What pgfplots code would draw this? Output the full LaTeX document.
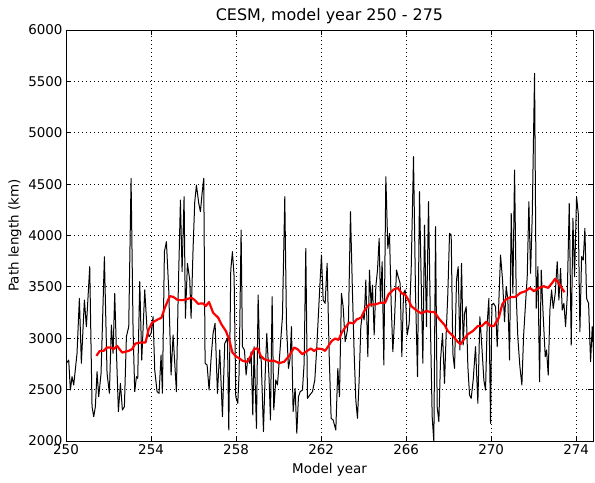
\documentclass[border=0pt]{standalone}
\usepackage{fontspec}
\setmainfont{DejaVu Sans}
\usepackage{pgfplots}
\pgfplotsset{compat=1.18}
\begin{document}
\begin{tikzpicture}
\begin{axis}[
  scale only axis, width=527bp, height=411bp,
  xmin=250, xmax=274.79, ymin=2000, ymax=6000,
  xtick={250,254,...,274}, ytick={2000,2500,...,6000},
  tick align=inside, major tick length=5bp,
  grid=major, major grid style={black, line width=0.8bp, dash pattern=on 0.8bp off 3.2bp},
  axis line style={black, line width=0.9bp},
  every tick/.style={black, line width=0.8bp},
  title={CESM, model year 250 - 275},
  title style={font=\fontsize{16}{18}\selectfont, yshift=-3bp},
  xlabel={Model year}, ylabel={Path length (km)},
  xlabel style={yshift=-2bp},
  label style={font=\fontsize{13.5}{15}\selectfont},
  tick label style={font=\fontsize{13.5}{15}\selectfont},
  /pgf/number format/1000 sep={},
  /pgf/number format/assume math mode=true,
  clip=true,
]
\coordinate (ll) at (rel axis cs:0,0);
\coordinate (ur) at (rel axis cs:1,1);
\addplot[black, line width=1bp, line join=round] table {
250.017 2756
250.127 2788
250.206 2496
250.284 2626
250.363 2545
250.519 2853
250.629 3388
250.723 2756
250.865 3372
250.959 3113
251.116 3697
251.225 2334
251.304 2237
251.382 2334
251.461 2675
251.539 2431
251.649 2659
251.806 3794
251.931 2659
252.041 2464
252.135 3129
252.214 2853
252.292 3437
252.370 2886
252.465 2285
252.559 2561
252.653 2302
252.747 2334
252.841 3015
252.951 3113
253.061 4556
253.155 3080
253.233 2480
253.312 2626
253.374 2610
253.469 3551
253.563 2788
253.704 3470
253.814 3080
253.908 3015
254.002 3048
254.096 3210
254.174 2691
254.284 2480
254.378 2464
254.472 2837
254.535 2464
254.629 3843
254.723 3940
254.833 3470
254.943 2642
255.037 3032
255.194 2480
255.272 3372
255.382 4345
255.461 3648
255.555 4378
255.617 3194
255.712 3729
255.821 3567
255.884 3194
255.978 3875
256.057 4329
256.135 4491
256.245 4313
256.323 4232
256.402 4410
256.480 4556
256.543 2756
256.637 2740
256.731 2496
256.825 2805
256.919 3048
257.013 3145
257.123 2464
257.233 2886
257.359 2237
257.468 2950
257.594 2999
257.657 2107
257.751 3664
257.829 3843
257.908 3599
257.986 2431
258.080 2367
258.143 2659
258.237 4053
258.300 2918
258.394 2886
258.472 2642
258.551 2805
258.645 2756
258.708 2869
258.786 2253
258.849 2918
258.959 2123
259.037 3421
259.115 2805
259.178 2821
259.288 2091
259.366 2626
259.445 3048
259.555 2594
259.617 2204
259.696 3405
259.774 2302
259.868 2594
259.947 2545
260.057 2853
260.182 3210
260.292 4378
260.370 3145
260.464 2707
260.543 2805
260.606 3113
260.684 2285
260.778 2513
260.857 2075
260.935 2431
261.014 2480
261.123 2496
261.202 2756
261.280 3875
261.359 2415
261.468 2448
261.594 2480
261.704 2594
261.798 2918
261.908 3372
262.017 3810
262.096 3372
262.190 3340
262.284 3729
262.378 2853
262.472 2221
262.566 2204
262.692 2107
262.786 2707
262.864 2431
262.958 3437
263.037 3307
263.131 2967
263.225 3064
263.288 3178
263.382 4232
263.476 3437
263.555 2853
263.633 2399
263.711 2221
263.790 2594
263.868 3113
263.947 3242
264.025 3178
264.104 3567
264.198 2821
264.276 3664
264.355 3307
264.417 3518
264.496 3032
264.574 3502
264.653 3664
264.731 3972
264.794 3340
264.872 3745
264.951 2740
265.045 4572
265.139 3875
265.217 4021
265.296 3340
265.374 2869
265.453 3178
265.547 3664
265.625 3599
265.719 3534
265.798 2821
265.876 3437
265.955 3470
266.049 3032
266.143 3145
266.237 3664
266.347 4767
266.441 3437
266.535 2626
266.629 4426
266.707 3567
266.786 2756
266.864 4102
266.958 3113
267.053 4329
267.147 3080
267.225 2237
267.304 1990
267.382 4086
267.460 2334
267.539 2188
267.617 2788
267.711 3048
267.805 2561
267.884 3048
267.962 3437
268.041 4021
268.119 4005
268.198 2853
268.276 2707
268.370 3567
268.449 3697
268.527 2886
268.605 3729
268.684 2934
268.747 3242
268.825 3307
268.904 2723
268.982 2448
269.060 2415
269.154 2594
269.264 2918
269.374 2367
269.468 3210
269.562 2918
269.656 2594
269.735 2496
269.813 3145
269.892 3388
269.970 2172
270.033 3324
270.111 3340
270.206 3307
270.284 2918
270.441 3810
270.535 3567
270.629 3161
270.707 3502
270.786 3372
270.864 2788
270.943 4216
271.021 3437
271.100 4637
271.178 3421
271.256 2999
271.351 2723
271.445 2545
271.523 3015
271.617 3340
271.696 3599
271.774 4329
271.853 3632
271.931 4183
272.041 5578
272.119 3291
272.198 3697
272.276 2577
272.355 3664
272.449 3210
272.543 2821
272.605 2886
272.684 2642
272.762 3275
272.841 3470
272.919 3291
273.013 3437
273.107 3745
273.186 3372
273.264 3680
273.343 3275
273.421 3340
273.500 3113
273.578 3405
273.672 4313
273.766 2934
273.845 4167
273.923 3599
274.017 4378
274.096 4216
274.174 3064
274.253 3794
274.331 3761
274.409 4070
274.488 3388
274.582 3340
274.676 2772
274.754 3113
274.833 2788
};
\addplot[red, line width=2.2bp, line join=round] table {
251.43 2829
251.59 2877
251.77 2877
251.93 2910
252.09 2910
252.245 2894
252.40 2926
252.64 2861
252.95 2877
253.11 2894
253.26 2948
253.50 2958
253.74 2958
253.89 3087
254.05 3152
254.33 3184
254.49 3200
254.65 3297
254.88 3410
255.04 3403
255.27 3371
255.51 3371
255.74 3384
255.90 3394
256.06 3371
256.21 3336
256.45 3339
256.57 3313
256.73 3352
256.92 3248
257.16 3200
257.31 3136
257.52 3071
257.67 2990
257.83 2861
258.02 2819
258.14 2806
258.30 2781
258.53 2771
258.69 2829
258.85 2894
259.01 2903
259.16 2829
259.32 2797
259.55 2781
259.79 2781
260.03 2758
260.26 2771
260.50 2829
260.73 2910
260.89 2894
261.12 2845
261.28 2868
261.52 2900
261.67 2877
261.83 2900
262.06 2894
262.19 2877
262.35 2926
262.50 2974
262.66 2997
262.82 2984
262.97 3055
263.13 3103
263.32 3152
263.52 3145
263.68 3184
263.88 3200
264.07 3281
264.26 3329
264.54 3329
264.78 3345
265.01 3345
265.17 3426
265.41 3474
265.61 3490
265.80 3436
265.95 3426
266.14 3361
266.24 3313
266.47 3274
266.71 3242
266.94 3265
267.18 3255
267.33 3255
267.57 3184
267.81 3129
267.96 3071
268.20 3023
268.43 2965
268.56 2942
268.72 2990
268.90 3039
269.14 3071
269.37 3119
269.56 3119
269.77 3161
269.97 3119
270.13 3119
270.36 3200
270.52 3329
270.68 3377
270.91 3400
271.15 3403
271.38 3442
271.62 3458
271.82 3490
272.01 3458
272.24 3490
272.48 3506
272.68 3490
272.87 3539
273.00 3577
273.11 3555
273.26 3506
273.45 3448
};
\end{axis}
\pgfresetboundingbox
\path ([shift={(-66bp,-42bp)}]ll) rectangle ([shift={(2bp,30bp)}]ur);
\end{tikzpicture}
\end{document}
